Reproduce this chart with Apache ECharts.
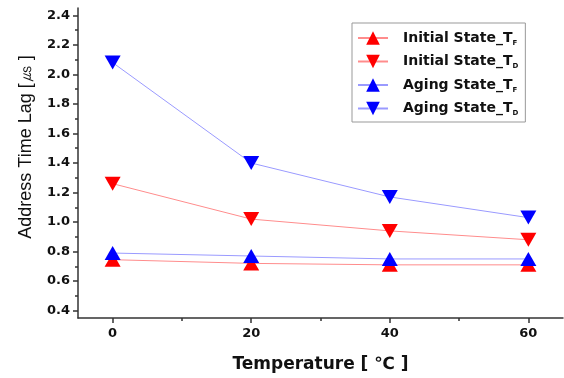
<!DOCTYPE html>
<html><head><meta charset="utf-8">
<script src="https://cdn.jsdelivr.net/npm/echarts@6/dist/echarts.min.js"></script>
<style>html,body{margin:0;padding:0;background:#fff}#c{width:564px;height:378px}</style>
</head><body><div id="c"></div>
<script>
const temperatures = [0, 20, 40, 60];
const initialTF = [0.745, 0.72, 0.71, 0.71];
const initialTD = [1.26, 1.02, 0.94, 0.88];
const agingTF = [0.79, 0.77, 0.75, 0.75];
const agingTD = [2.08, 1.40, 1.17, 1.03];
const xMajorTicks = [0, 20, 40, 60];
const xMinorTicks = [10, 30, 50];
const yMajorTicks = [0.4, 0.6, 0.8, 1.0, 1.2, 1.4, 1.6, 1.8, 2.0, 2.2, 2.4];
const yMinorTicks = [0.5, 0.7, 0.9, 1.1, 1.3, 1.5, 1.7, 1.9, 2.1, 2.3];
const seriesNames = ['Initial State_TF', 'Initial State_TD', 'Aging State_TF', 'Aging State_TD'];

const UP = 'triangle';
const DOWN = 'path://M0,0 L10,0 L5,9 Z';
const FONT = 'Liberation Sans, Arial, sans-serif';
const WIDE = 'DejaVu Sans, Verdana, sans-serif';

function pts(vals) { return temperatures.map((t, i) => [t, vals[i]]); }
function mk(name, vals, sym, mColor, lColor) {
  return {
    name, type: 'line', data: pts(vals), symbol: sym, symbolSize: [16, 14],
    itemStyle: { color: mColor }, lineStyle: { color: lColor, width: 1 },
    xAxisIndex: 0, yAxisIndex: 0, animation: false
  };
}
const axisLineStyle = { color: '#333', width: 1.5 };
const chart = echarts.init(document.getElementById('c'));
chart.setOption({
  animation: false,
  grid: { left: 78, right: 1, top: 8, bottom: 58 },
  legend: {
    orient: 'vertical', left: 352, top: 23,
    padding: [8, 7, 5, 5], itemGap: 8, itemWidth: 30, itemHeight: 17,
    borderColor: '#999', borderWidth: 1,
    data: seriesNames,
    formatter: function (n) {
      const base = n.slice(0, -1), sub = n.slice(-1);
      return '{a|' + base + '}{s|' + sub + '}';
    },
    textStyle: {
      padding: [0, 0, 0, 10],
      rich: {
        a: { fontFamily: WIDE, fontSize: 14, fontWeight: 'bold', color: '#111', lineHeight: 17 },
        s: { fontFamily: WIDE, fontSize: 7, fontWeight: 'bold', color: '#111', lineHeight: 17, verticalAlign: 'bottom', padding: [8, 0, 0, 0] }
      }
    }
  },
  xAxis: [{
    type: 'value', min: -5, max: 65,
    name: 'Temperature [ ℃ ]', nameLocation: 'middle', nameGap: 38,
    nameTextStyle: { fontFamily: WIDE, fontSize: 17, fontWeight: 'bold', color: '#111' },
    axisLine: { onZero: false, lineStyle: axisLineStyle },
    axisTick: { show: true, customValues: xMajorTicks, length: 5, lineStyle: { color: '#333', width: 1.5 } },
    axisLabel: { customValues: xMajorTicks, fontFamily: WIDE, fontSize: 13, fontWeight: 'bold', color: '#111', margin: 9 },
    splitLine: { show: false }
  }, {
    type: 'value', min: -5, max: 65, position: 'bottom',
    axisLine: { show: false, onZero: false },
    axisTick: { show: true, customValues: xMinorTicks, length: 3, lineStyle: { color: '#333', width: 1.5 } },
    axisLabel: { show: false }, splitLine: { show: false }
  }],
  yAxis: [{
    type: 'value', min: 0.35, max: 2.45,
    name: 'Address Time Lag [㎲ ]', nameLocation: 'middle', nameGap: 43,
    nameTextStyle: { fontFamily: FONT, fontSize: 18, color: '#111', padding: [0, 0, 0, 32] },
    axisLine: { show: true, onZero: false, lineStyle: axisLineStyle },
    axisTick: { show: true, customValues: yMajorTicks, length: 5, lineStyle: { color: '#333', width: 1.5 } },
    axisLabel: { customValues: yMajorTicks, fontFamily: WIDE, fontSize: 13, fontWeight: 'bold', color: '#111', margin: 8,
      formatter: v => v.toFixed(1) },
    splitLine: { show: false }
  }, {
    type: 'value', min: 0.35, max: 2.45, position: 'left',
    axisLine: { show: false, onZero: false },
    axisTick: { show: true, customValues: yMinorTicks, length: 3, lineStyle: { color: '#333', width: 1.5 } },
    axisLabel: { show: false }, splitLine: { show: false }
  }],
  series: [
    mk(seriesNames[0], initialTF, UP, '#ff0000', '#ff8c8c'),
    mk(seriesNames[1], initialTD, DOWN, '#ff0000', '#ff8c8c'),
    mk(seriesNames[2], agingTF, UP, '#0000ff', '#9a9aff'),
    mk(seriesNames[3], agingTD, DOWN, '#0000ff', '#9a9aff')
  ]
});
</script></body></html>
